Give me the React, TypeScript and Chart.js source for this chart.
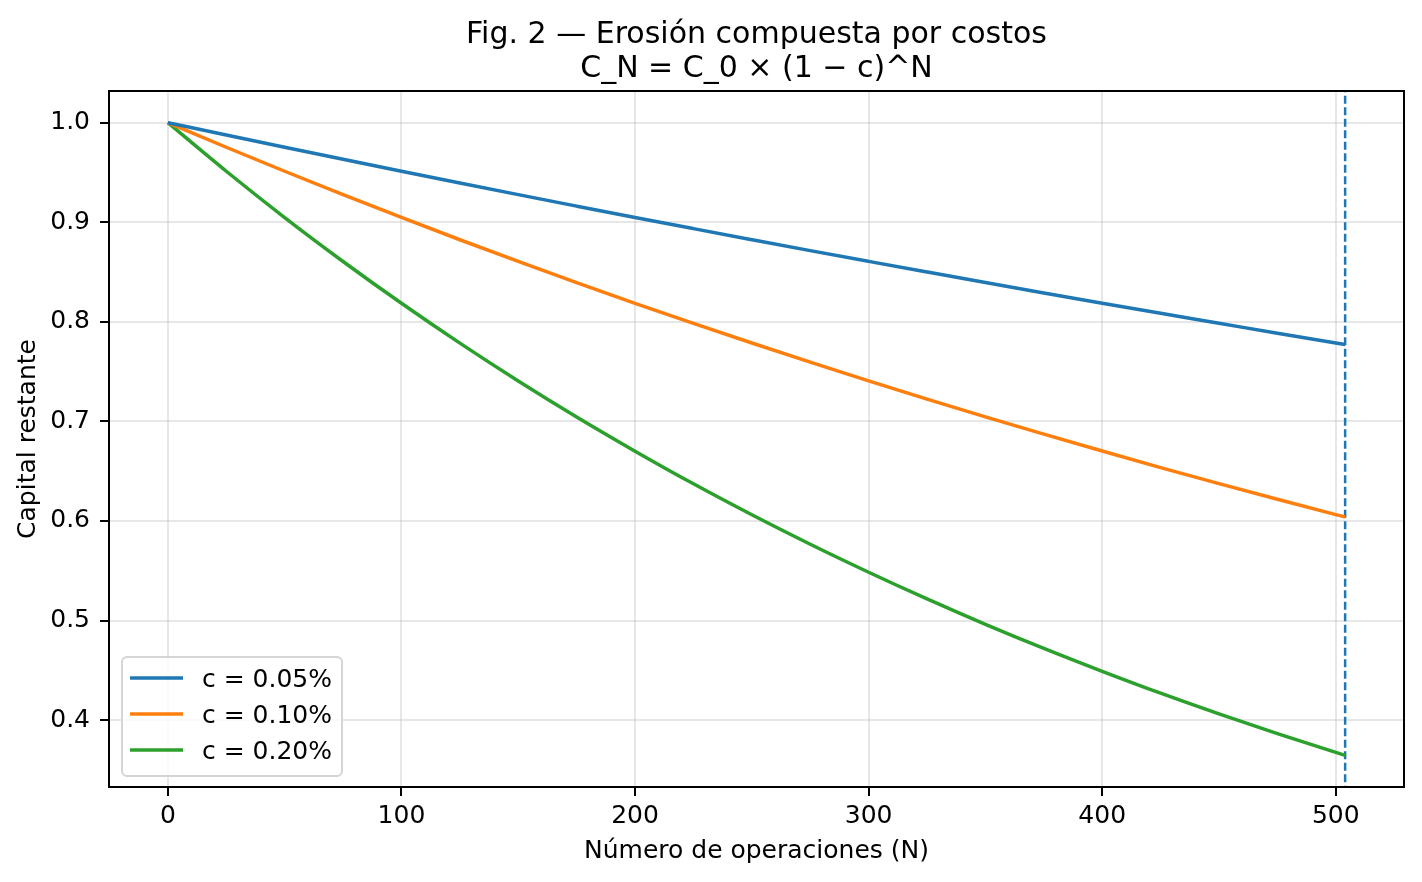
import { useEffect, useRef } from 'react';
import { Chart, registerables } from 'chart.js';

Chart.register(...registerables);

// Number of operations sampled along each curve
const nValues = [0, 25, 50, 75, 100, 125, 150, 175, 200, 225, 250, 275, 300, 325, 350, 375, 400, 425, 450, 475, 500, 504];

// Remaining capital for each cost level
const capitalLow = [1.0, 0.9876, 0.9753, 0.9632, 0.9512, 0.9394, 0.9277, 0.9162, 0.9048, 0.8936, 0.8825, 0.8715, 0.8607, 0.85, 0.8394, 0.829, 0.8187, 0.8085, 0.7985, 0.7885, 0.7787, 0.7773];
const capitalMid = [1.0, 0.9753, 0.9512, 0.9277, 0.9048, 0.8824, 0.8606, 0.8394, 0.8186, 0.7984, 0.7787, 0.7595, 0.7407, 0.7224, 0.7045, 0.6872, 0.6702, 0.6536, 0.6375, 0.6218, 0.6064, 0.604];
const capitalHigh = [1.0, 0.9512, 0.9047, 0.8606, 0.8186, 0.7786, 0.7406, 0.7044, 0.6701, 0.6373, 0.6062, 0.5766, 0.5485, 0.5217, 0.4962, 0.472, 0.449, 0.427, 0.4062, 0.3864, 0.3675, 0.3646];

const seriesLabels = ['c = 0.05%', 'c = 0.10%', 'c = 0.20%'];
const seriesColors = ['#1f77b4', '#ff7f0e', '#2ca02c'];

const xTicks = [0, 100, 200, 300, 400, 500];
const yTicks = [0.4, 0.5, 0.6, 0.7, 0.8, 0.9, 1.0];
const xRange = [-25.2, 529.2];
const yRange = [0.3328, 1.0318];
const markerN = 504;

const titleLines = ['Fig. 2 — Erosión compuesta por costos', 'C_N = C_0 × (1 − c)^N'];
const xTitle = 'Número de operaciones (N)';
const yTitle = 'Capital restante';

const FONT = "'DejaVu Sans', sans-serif";
const GRID = 'rgba(176,176,176,0.3)';

const framePlugin = {
  id: 'frameAndDecor',
  afterDatasetsDraw(chart: any) {
    const { ctx, chartArea } = chart;
    const { left, top, right, bottom } = chartArea;
    ctx.save();
    // axes frame
    ctx.strokeStyle = '#000';
    ctx.lineWidth = 2;
    ctx.strokeRect(left, top, right - left, bottom - top);

    // title
    ctx.fillStyle = '#000';
    ctx.font = `30px ${FONT}`;
    ctx.textAlign = 'center';
    ctx.textBaseline = 'alphabetic';
    const cx = (left + right) / 2;
    ctx.fillText(titleLines[0], cx, 43);
    ctx.fillText(titleLines[1], cx, 77);

    // legend
    const bx = 122, by = 657, bw = 220, bh = 119, r = 5;
    ctx.beginPath();
    ctx.moveTo(bx + r, by);
    ctx.arcTo(bx + bw, by, bx + bw, by + bh, r);
    ctx.arcTo(bx + bw, by + bh, bx, by + bh, r);
    ctx.arcTo(bx, by + bh, bx, by, r);
    ctx.arcTo(bx, by, bx + bw, by, r);
    ctx.closePath();
    ctx.fillStyle = 'rgba(255,255,255,0.8)';
    ctx.fill();
    ctx.strokeStyle = '#d5d5d5';
    ctx.lineWidth = 2;
    ctx.stroke();

    const rows = [678, 714, 750];
    ctx.font = `25px ${FONT}`;
    ctx.textAlign = 'left';
    seriesLabels.forEach((label, i) => {
      ctx.strokeStyle = seriesColors[i];
      ctx.lineWidth = 3.5;
      ctx.beginPath();
      ctx.moveTo(130, rows[i]);
      ctx.lineTo(183, rows[i]);
      ctx.stroke();
      ctx.fillStyle = '#000';
      ctx.fillText(label, 202, rows[i] + 9);
    });
    ctx.restore();
  },
};

export default function App() {
  const ref = useRef<HTMLCanvasElement>(null);

  useEffect(() => {
    document.body.style.margin = '0';
    const canvas = ref.current!;
    const series = [capitalLow, capitalMid, capitalHigh];
    const datasets: any[] = series.map((vals, i) => ({
      label: seriesLabels[i],
      data: nValues.map((n, k) => ({ x: n, y: vals[k] })),
      borderColor: seriesColors[i],
      borderWidth: 3.5,
      pointRadius: 0,
      cubicInterpolationMode: 'monotone',
      fill: false,
    }));
    datasets.push({
      label: 'N',
      data: [
        { x: markerN, y: yRange[0] - 1 },
        { x: markerN, y: yRange[1] + 1 },
      ],
      borderColor: seriesColors[0],
      borderWidth: 2.5,
      borderDash: [8, 3.5],
      pointRadius: 0,
      fill: false,
    });

    const chart = new Chart(canvas, {
      type: 'line',
      data: { datasets },
      plugins: [framePlugin],
      options: {
        animation: false,
        responsive: false,
        devicePixelRatio: 1,
        layout: { padding: { top: 91, right: 18, left: 0, bottom: 0 } },
        plugins: {
          legend: { display: false },
          title: { display: false },
          tooltip: { enabled: false },
        },
        scales: {
          x: {
            type: 'linear',
            min: xRange[0],
            max: xRange[1],
            border: { display: false },
            afterFit: (s: any) => { s.height = 95; },
            afterBuildTicks: (s: any) => { s.ticks = xTicks.map((v) => ({ value: v })); },
            grid: { color: GRID, lineWidth: 2, tickColor: '#000', tickLength: 9, tickWidth: 2 },
            ticks: {
              color: '#000',
              font: { family: FONT, size: 25 },
              padding: 5,
              maxRotation: 0,
              callback: (v: any) => String(v),
            },
            title: {
              display: true,
              text: xTitle,
              color: '#000',
              font: { family: FONT, size: 25 },
              padding: { top: 0, bottom: 16 },
            },
          },
          y: {
            type: 'linear',
            min: yRange[0],
            max: yRange[1],
            border: { display: false },
            afterFit: (s: any) => { s.width = 109; },
            afterBuildTicks: (s: any) => { s.ticks = yTicks.map((v) => ({ value: v })); },
            grid: { color: GRID, lineWidth: 2, tickColor: '#000', tickLength: 9, tickWidth: 2 },
            ticks: {
              color: '#000',
              font: { family: FONT, size: 25 },
              padding: 10,
              callback: (v: any) => Number(v).toFixed(1),
            },
            title: {
              display: true,
              text: yTitle,
              color: '#000',
              font: { family: FONT, size: 25 },
              padding: { top: 13, bottom: 0 },
            },
          },
        },
      },
    });
    return () => chart.destroy();
  }, []);

  return (
    <div style={{ width: 1422, height: 882, background: '#fff' }}>
      <canvas ref={ref} width={1422} height={882} style={{ display: 'block' }} />
    </div>
  );
}
